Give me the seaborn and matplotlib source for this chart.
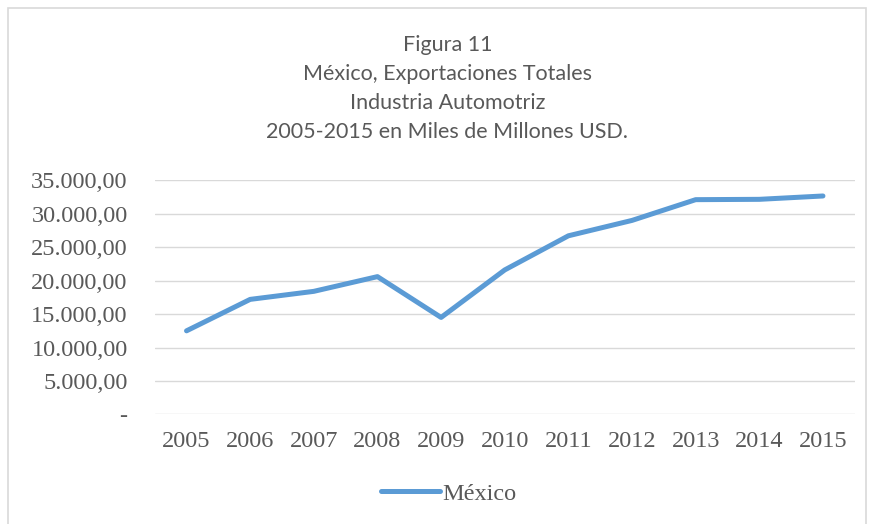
import pandas as pd
import seaborn as sns
import matplotlib.pyplot as plt
from matplotlib.patches import Rectangle
from matplotlib.ticker import FuncFormatter

years = [2005, 2006, 2007, 2008, 2009, 2010, 2011, 2012, 2013, 2014, 2015]
mexico = [12500, 17200, 18400, 20600, 14500, 21600, 26700, 29000, 32100, 32150, 32650]
yticks = [0, 5000, 10000, 15000, 20000, 25000, 30000, 35000]

df = pd.DataFrame({"Año": years, "México": mexico})

sns.set_style("white")
plt.rcParams["font.family"] = ["Liberation Serif", "DejaVu Serif"]

fig = plt.figure(figsize=(8.74, 5.24), dpi=100)
ax = fig.add_axes([0.177, 0.209, 0.801, 0.447])

sns.lineplot(data=df, x="Año", y="México", color="#5B9BD5", linewidth=3.6,
             solid_capstyle="round", label="México", ax=ax)

def fmt(v, pos):
    if v == 0:
        return "-"
    s = f"{v:,.2f}"
    return s.replace(",", "X").replace(".", ",").replace("X", ".")

ax.set_ylim(0, 35000)
ax.set_yticks(yticks)
ax.yaxis.set_major_formatter(FuncFormatter(fmt))
ax.set_xlim(2004.5, 2015.5)
ax.set_xticks(years)
ax.set_xticklabels([str(y) for y in years])
ax.tick_params(axis="both", length=0, labelsize=17.5, labelcolor="#595959")
ax.tick_params(axis="y", pad=19.5)
ax.tick_params(axis="x", pad=12)
ax.grid(axis="y", color="#D9D9D9", linewidth=1)
ax.set_axisbelow(True)
for s in ax.spines.values():
    s.set_visible(False)
ax.set_xlabel("")
ax.set_ylabel("")

leg = ax.legend(loc="center", bbox_to_anchor=(0.42, -0.338), frameon=False,
                fontsize=17.5, handlelength=2.4, handletextpad=0.1)
for t in leg.get_texts():
    t.set_color("#595959")

titles = ["Figura 11", "México, Exportaciones Totales", "Industria Automotriz",
          "2005-2015 en Miles de Millones USD."]
for i, t in enumerate(titles):
    fig.text(0.512, 1 - (45 + 29 * i) / 524, t, ha="center", va="center",
             fontsize=15.5, color="#595959", family=["Lato", "DejaVu Sans"])

fig.patches.append(Rectangle((8 / 874, -0.01), 858 / 874, 1 - 8 / 524 + 0.01,
                             transform=fig.transFigure, fill=False,
                             edgecolor="#D9D9D9", linewidth=1.2))

fig.savefig("out.png", dpi=100)
